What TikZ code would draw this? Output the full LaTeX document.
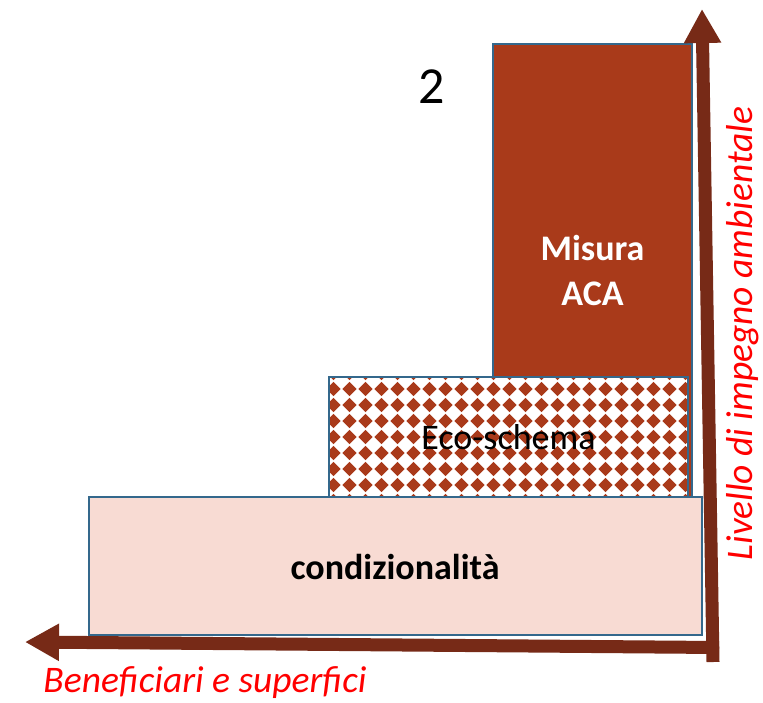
\documentclass[tikz,border=0pt]{standalone}
\usepackage{fontspec}
\setmainfont{Carlito}
\usetikzlibrary{arrows.meta}
\definecolor{aca}{RGB}{169,58,26}
\definecolor{bord}{RGB}{52,104,140}
\definecolor{cond}{RGB}{248,219,211}
\definecolor{axis}{RGB}{119,42,23}
\definecolor{lbl}{RGB}{255,0,0}
\tikzset{
  box/.style={draw=bord,line width=2.5pt},
  axisarrow/.style={draw=axis,line width=13pt,-{Triangle[length=34pt,width=35pt]}},
  boxtext/.style={font=\fontsize{36}{45}\selectfont,align=center,inner sep=0pt},
  axislabel/.style={text=lbl,font=\fontsize{37.5}{44}\selectfont\itshape,inner sep=0pt}
}
\begin{document}
\begin{tikzpicture}[x=1pt,y=-1pt]
\useasboundingbox (0,0) rectangle (763,702);
% Misura ACA
\draw[box,fill=aca] (493,44) rectangle (692,497);
\node[boxtext,text=white,font=\fontsize{36}{45}\selectfont\bfseries] (aca) at (592.5,270) {Misura\\ACA};
% Eco-schema
\fill[white] (329,377) rectangle (688,497);
\begin{scope}
\clip (329,377) rectangle (688,497);
\foreach \i in {0,...,23}{
  \foreach \j in {-1,...,7}{
    \fill[aca] ({333.5+16*\i},{389+16*\j-7.2}) -- ++(7.2,7.2) -- ++(-7.2,7.2) -- ++(-7.2,-7.2) -- cycle;
  }
}
\end{scope}
\draw[box] (329,377) rectangle (688,497);
\node[boxtext,font=\fontsize{36}{45}\selectfont] (eco) at (508.5,437) {Eco-schema};
% condizionalita
\draw[box,fill=cond] (89,497) rectangle (702,635);
\node[boxtext,font=\fontsize{36}{45}\selectfont\bfseries] (cnd) at (395,567) {condizionalità};
% number
\node[inner sep=0pt,font=\fontsize{52}{60}\selectfont] (num) at (432,87) {2};
% axes
\coordinate (ybot) at (713,662);
\coordinate (ytip) at (702,9);
\coordinate (xright) at (719,647.5);
\coordinate (xtip) at (25,642);
\draw[axisarrow] (ybot) -- (ytip);
\draw[axisarrow] (xright) -- (xtip);
\node[axislabel] (xl) at (205,683) {Beneficiari e superfici};
\node[axislabel,rotate=90] (yl) at (743,333.5) {Livello di impegno ambientale};
\end{tikzpicture}
\end{document}
